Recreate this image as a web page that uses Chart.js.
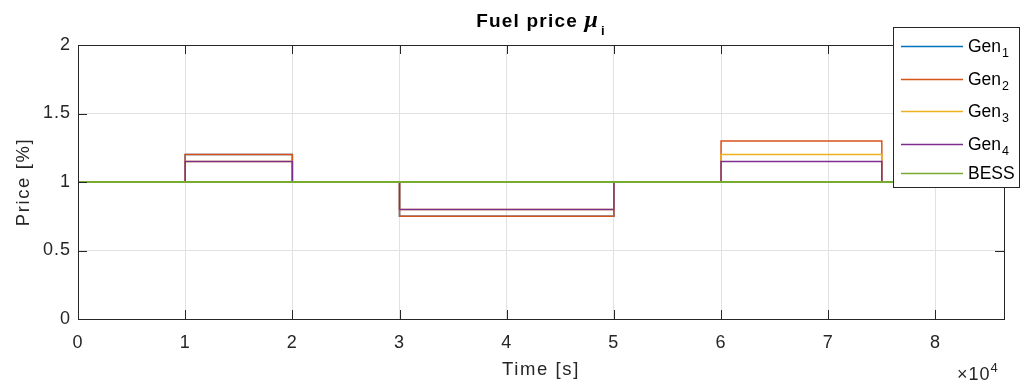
<!DOCTYPE html>
<html>
<head>
<meta charset="utf-8">
<script src="https://cdn.jsdelivr.net/npm/chart.js@4/dist/chart.umd.min.js"></script>
<style>
  html, body { margin: 0; padding: 0; background: #ffffff; }
  #wrap { width: 1029px; height: 385px; }
</style>
</head>
<body>
<div id="wrap"><canvas id="c" width="1029" height="385"></canvas></div>
<script>
// Step change instants [s] and the price multiplier held from each instant on
const timeSec = [0, 10000, 20000, 30000, 50000, 60000, 75000, 86400];
const gen1 = [1, 1.2, 1, 0.75, 1, 1, 1, 1];
const gen2 = [1, 1.2, 1, 0.75, 1, 1.3, 1, 1];
const gen3 = [1, 1.15, 1, 0.8, 1, 1.2, 1, 1];
const gen4 = [1, 1.15, 1, 0.8, 1, 1.15, 1, 1];
const bess = [1, 1, 1, 1, 1, 1, 1, 1];

const seriesBase = ['Gen', 'Gen', 'Gen', 'Gen', 'BESS'];
const seriesSub = ['1', '2', '3', '4', ''];
const seriesColors = ['#0072BD', '#D95319', '#EDB120', '#7E2F8E', '#77AC30'];
const seriesWidths = [1.5, 1.5, 1.5, 1.5, 2];

const xTickValues = [0, 10000, 20000, 30000, 40000, 50000, 60000, 70000, 80000];
const xTickLabels = ['0', '1', '2', '3', '4', '5', '6', '7', '8'];
const yTickValues = [0, 0.5, 1, 1.5, 2];
const yTickLabels = ['0', '0.5', '1', '1.5', '2'];

const FONT = "'Liberation Sans', Arial, Helvetica, sans-serif";
const SERIF = "'Liberation Serif', 'DejaVu Serif', serif";
const INK = '#262626';
const GRID = '#e2e2e2';

function toPoints(vals) {
  return timeSec.map((t, i) => ({ x: t, y: vals[i] }));
}

const allValues = [gen1, gen2, gen3, gen4, bess];
const datasets = allValues.map((vals, i) => ({
  label: seriesBase[i] + seriesSub[i],
  data: toPoints(vals),
  borderColor: seriesColors[i],
  backgroundColor: seriesColors[i],
  borderWidth: seriesWidths[i],
  pointRadius: 0,
  fill: false,
  stepped: 'before',
  order: allValues.length - i   // later series sit on top
}));

// Box, inward ticks on all four sides, titles and legend
const framePlugin = {
  id: 'frame',
  beforeDraw(chart) {
    chart.ctx.letterSpacing = '1px';
  },
  afterDatasetsDraw(chart) {
    const { ctx, chartArea: a, scales } = chart;
    const L = 9;
    ctx.save();
    ctx.strokeStyle = INK;
    ctx.lineWidth = 1;
    ctx.beginPath();
    xTickValues.forEach(v => {
      const px = Math.round(scales.x.getPixelForValue(v)) + 0.5;
      ctx.moveTo(px, a.bottom); ctx.lineTo(px, a.bottom - L);
      ctx.moveTo(px, a.top); ctx.lineTo(px, a.top + L);
    });
    yTickValues.forEach(v => {
      const py = Math.round(scales.y.getPixelForValue(v)) + 0.5;
      ctx.moveTo(a.left, py); ctx.lineTo(a.left + L, py);
      ctx.moveTo(a.right, py); ctx.lineTo(a.right - L, py);
    });
    ctx.stroke();
    ctx.strokeRect(Math.round(a.left) + 0.5, Math.round(a.top) + 0.5,
                   Math.round(a.right - a.left), Math.round(a.bottom - a.top));
    ctx.restore();
  },
  afterDraw(chart) {
    const { ctx, chartArea: a } = chart;
    const cx = (a.left + a.right) / 2;
    ctx.save();
    ctx.fillStyle = '#000000';
    ctx.textBaseline = 'alphabetic';
    ctx.textAlign = 'left';

    // Title: Fuel price mu_i
    ctx.letterSpacing = '1.2px';
    const f1 = 'bold 19px ' + FONT, f2 = 'italic bold 24px ' + SERIF, f3 = 'bold 13px ' + FONT;
    ctx.font = f1; const w1 = ctx.measureText('Fuel price ').width;
    ctx.font = f2; const w2 = ctx.measureText('\u03bc').width + 2;
    ctx.font = f3; const w3 = ctx.measureText('i').width;
    let tx = cx - (w1 + w2 + w3) / 2;
    ctx.font = f1; ctx.fillText('Fuel price ', tx, 27); tx += w1;
    ctx.font = f2; ctx.fillText('\u03bc', tx, 27); tx += w2;
    ctx.font = f3; ctx.fillText('i', tx, 35);

    // Axis titles
    ctx.fillStyle = '#262626';
    ctx.letterSpacing = '1.6px';
    ctx.font = '18.5px ' + FONT;
    ctx.textAlign = 'center';
    ctx.fillText('Time [s]', cx, 375);
    ctx.save();
    ctx.translate(29, (a.top + a.bottom) / 2);
    ctx.rotate(-Math.PI / 2);
    ctx.fillText('Price [%]', 0, 0);
    ctx.restore();

    // Exponent of the time axis
    ctx.textAlign = 'left';
    ctx.letterSpacing = '1px';
    ctx.font = '18px ' + FONT;
    ctx.fillText('\u00d710', 957, 380);
    const wx = ctx.measureText('\u00d710').width;
    ctx.font = '13px ' + FONT;
    ctx.fillText('4', 957 + wx, 372);

    // Legend
    ctx.letterSpacing = '0px';
    const bx = 893, by = 27, bw = 126, bh = 160;
    ctx.fillStyle = '#ffffff';
    ctx.fillRect(bx, by, bw, bh);
    ctx.strokeStyle = INK;
    ctx.lineWidth = 1;
    ctx.strokeRect(bx + 0.5, by + 0.5, bw, bh);
    const rows = [46, 79, 111, 144, 173];
    seriesBase.forEach((name, i) => {
      const y = rows[i];
      ctx.strokeStyle = seriesColors[i];
      ctx.lineWidth = 1.5;
      ctx.beginPath();
      ctx.moveTo(901, y + 0.5); ctx.lineTo(963, y + 0.5);
      ctx.stroke();
      ctx.fillStyle = '#000000';
      ctx.font = '17.5px ' + FONT;
      ctx.fillText(name, 968, y + 6);
      if (seriesSub[i]) {
        const wn = ctx.measureText(name).width;
        ctx.font = '12.5px ' + FONT;
        ctx.fillText(seriesSub[i], 968 + wn + 1, y + 11);
      }
    });
    ctx.restore();
  }
};

Chart.defaults.font.family = FONT;
Chart.defaults.color = '#262626';

new Chart(document.getElementById('c'), {
  type: 'line',
  data: { datasets },
  options: {
    responsive: false,
    animation: false,
    devicePixelRatio: 1,
    layout: { padding: { left: 0, top: 45, right: 25, bottom: 0 } },
    plugins: { legend: { display: false }, title: { display: false }, tooltip: { enabled: false } },
    scales: {
      x: {
        type: 'linear',
        min: 0,
        max: 86400,
        afterBuildTicks(scale) { scale.ticks = xTickValues.map(v => ({ value: v })); },
        afterFit(scale) { scale.height = 66; },
        ticks: {
          font: { size: 18 },
          color: '#262626',
          padding: 13,
          maxRotation: 0,
          autoSkip: false,
          callback: (v, i) => xTickLabels[i]
        },
        grid: { color: GRID, lineWidth: 1, drawTicks: false },
        border: { display: false }
      },
      y: {
        type: 'linear',
        min: 0,
        max: 2,
        afterBuildTicks(scale) { scale.ticks = yTickValues.map(v => ({ value: v })); },
        afterFit(scale) { scale.width = 78; },
        ticks: {
          font: { size: 18 },
          color: '#262626',
          padding: 7,
          autoSkip: false,
          callback: (v, i) => yTickLabels[i]
        },
        grid: { color: GRID, lineWidth: 1, drawTicks: false },
        border: { display: false }
      }
    }
  },
  plugins: [framePlugin]
});
</script>
</body>
</html>
